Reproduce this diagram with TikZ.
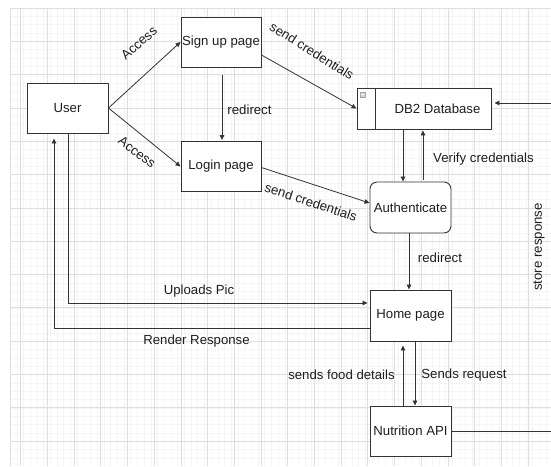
\documentclass[tikz,border=0pt]{standalone}
\usepackage{fontspec}
\setmainfont{Liberation Sans}
\usetikzlibrary{arrows.meta,calc}

\definecolor{ink}{HTML}{333333}
\definecolor{txt}{HTML}{1E1E1E}
\definecolor{gridmajor}{HTML}{DEDEDE}
\definecolor{gridminor}{HTML}{F5F5F5}

\tikzset{
  box/.style={draw=ink, line width=0.9pt, fill=white, minimum width=81pt,
              minimum height=50pt, inner sep=0pt, text=txt,
              font=\fontsize{13.2}{15}\selectfont},
  roundbox/.style={box, rounded corners=7pt},
  flow/.style={draw=ink, line width=0.8pt,
               -{Triangle[length=5pt,width=4.5pt]}},
  plainflow/.style={draw=ink, line width=0.8pt},
  lbl/.style={text=txt, inner sep=0pt, font=\fontsize{13.2}{15}\selectfont},
}

\begin{document}
\begin{tikzpicture}[x=1pt, y=-1pt]
  \useasboundingbox (0,0) rectangle (551,466);
  \fill[white] (0,0) rectangle (551,466);

  % background grid
  \foreach \gx in {10,16.7,...,551} \draw[gridminor, line width=0.4pt] (\gx,8) -- (\gx,466);
  \foreach \gy in {8,16.33,...,466} \draw[gridminor, line width=0.4pt] (10,\gy) -- (551,\gy);
  \foreach \gx in {20.6,47.3,74,...,551} \draw[gridmajor, line width=0.6pt] (\gx,8) -- (\gx,466);
  \foreach \gy in {8,41.3,...,466} \draw[gridmajor, line width=0.6pt] (10,\gy) -- (551,\gy);
  \draw[gridmajor, line width=0.6pt] (10,8) -- (10,466);

  % process boxes
  \node[box] (user)   at (67.5,108)   {User};
  \node[box, minimum width=80pt] (signup) at (221,42)    {Sign up page};
  \node[box, minimum width=80pt] (login)  at (221,166.5) {Login page};
  \node[box, minimum width=134pt, minimum height=41pt] (db) at (424,108.5) {};
  \node[lbl] (dbtext) at (437.5,108.5) {DB2 Database};
  \draw[ink, line width=0.8pt] ($(db.north west)+(19,0)$) -- ($(db.south west)+(19,0)$);
  \node[draw=gray!70, fill=gray!35, minimum size=5pt, inner sep=0pt] (dbicon) at (362.5,94.5) {};
  \draw[white, line width=0.6pt] ($(dbicon.west)+(1,0)$) -- ($(dbicon.east)+(-1,0)$);
  \node[roundbox, minimum height=51pt] (auth) at (410.5,207.5) {Authenticate};
  \node[box, minimum height=51pt] (home) at (410.5,315.5) {Home page};
  \node[box] (nut)  at (410.5,431)   {Nutrition API};

  % free ends at the right margin
  \coordinate (edgeout) at (551,431);
  \coordinate (edgein)  at (551,103);

  % connectors
  \draw[flow] (user.east) -- (signup.west);
  \draw[flow] (user.east) -- (login.west);
  \draw[flow] ($(signup.south)+(1,8)$) -- ($(login.north)+(1,-1)$);
  \draw[flow] ($(signup.east)+(0,13)$) -- (db.west);
  \draw[flow] ($(login.east)+(0,1)$) -- ($(auth.west)+(0,-4.5)$);
  \draw[flow] ($(auth.north |- db.south)+(-7.5,0)$) -- ($(auth.north)+(-7.5,0)$);
  \draw[flow] ($(auth.north)+(12.5,-2)$) -- ($(auth.north |- db.south)+(12.5,1)$);
  \draw[flow] ($(auth.south)+(-1.5,0)$) -- ($(home.north)+(-1.5,0)$);
  \draw[flow] ($(home.south)+(4.5,0)$) -- ($(nut.north)+(4.5,0)$);
  \draw[flow] ($(nut.north)+(-7.5,0)$) -- ($(home.south)+(-7.5,4)$);
  \draw[flow] ($(user.south)+(0.5,0)$) |- ($(home.west)+(-2,-12.5)$);
  \draw[flow] ($(home.west)+(0,12.5)$) -| ($(user.south)+(-13.5,5)$);
  \draw[plainflow] (nut.east) -- (edgeout);
  \draw[flow] (edgein) -- ($(db.east)+(3,-5.5)$);

  % connector labels
  \node[lbl, rotate=41]  (accessup)  at (139,43)  {Access};
  \node[lbl, rotate=-37] (accessdn)  at (137,152) {Access};
  \node[lbl]             (redir1)    at (249.5,110) {redirect};
  \node[lbl, rotate=-32] (credup)    at (312,51)  {send credentials};
  \node[lbl, rotate=-18] (creddn)    at (311,202) {send credentials};
  \node[lbl]             (verify)    at (483.5,159) {Verify credentials};
  \node[lbl]             (redir2)    at (440,258) {redirect};
  \node[lbl]             (uploads)   at (199,291) {Uploads Pic};
  \node[lbl]             (render)    at (196.5,341) {Render Response};
  \node[lbl]             (fooddet)   at (341.5,375) {sends food details};
  \node[lbl]             (sendreq)   at (464,375) {Sends request};
  \node[lbl, rotate=90]  (store)     at (539,247) {store response};
\end{tikzpicture}
\end{document}
